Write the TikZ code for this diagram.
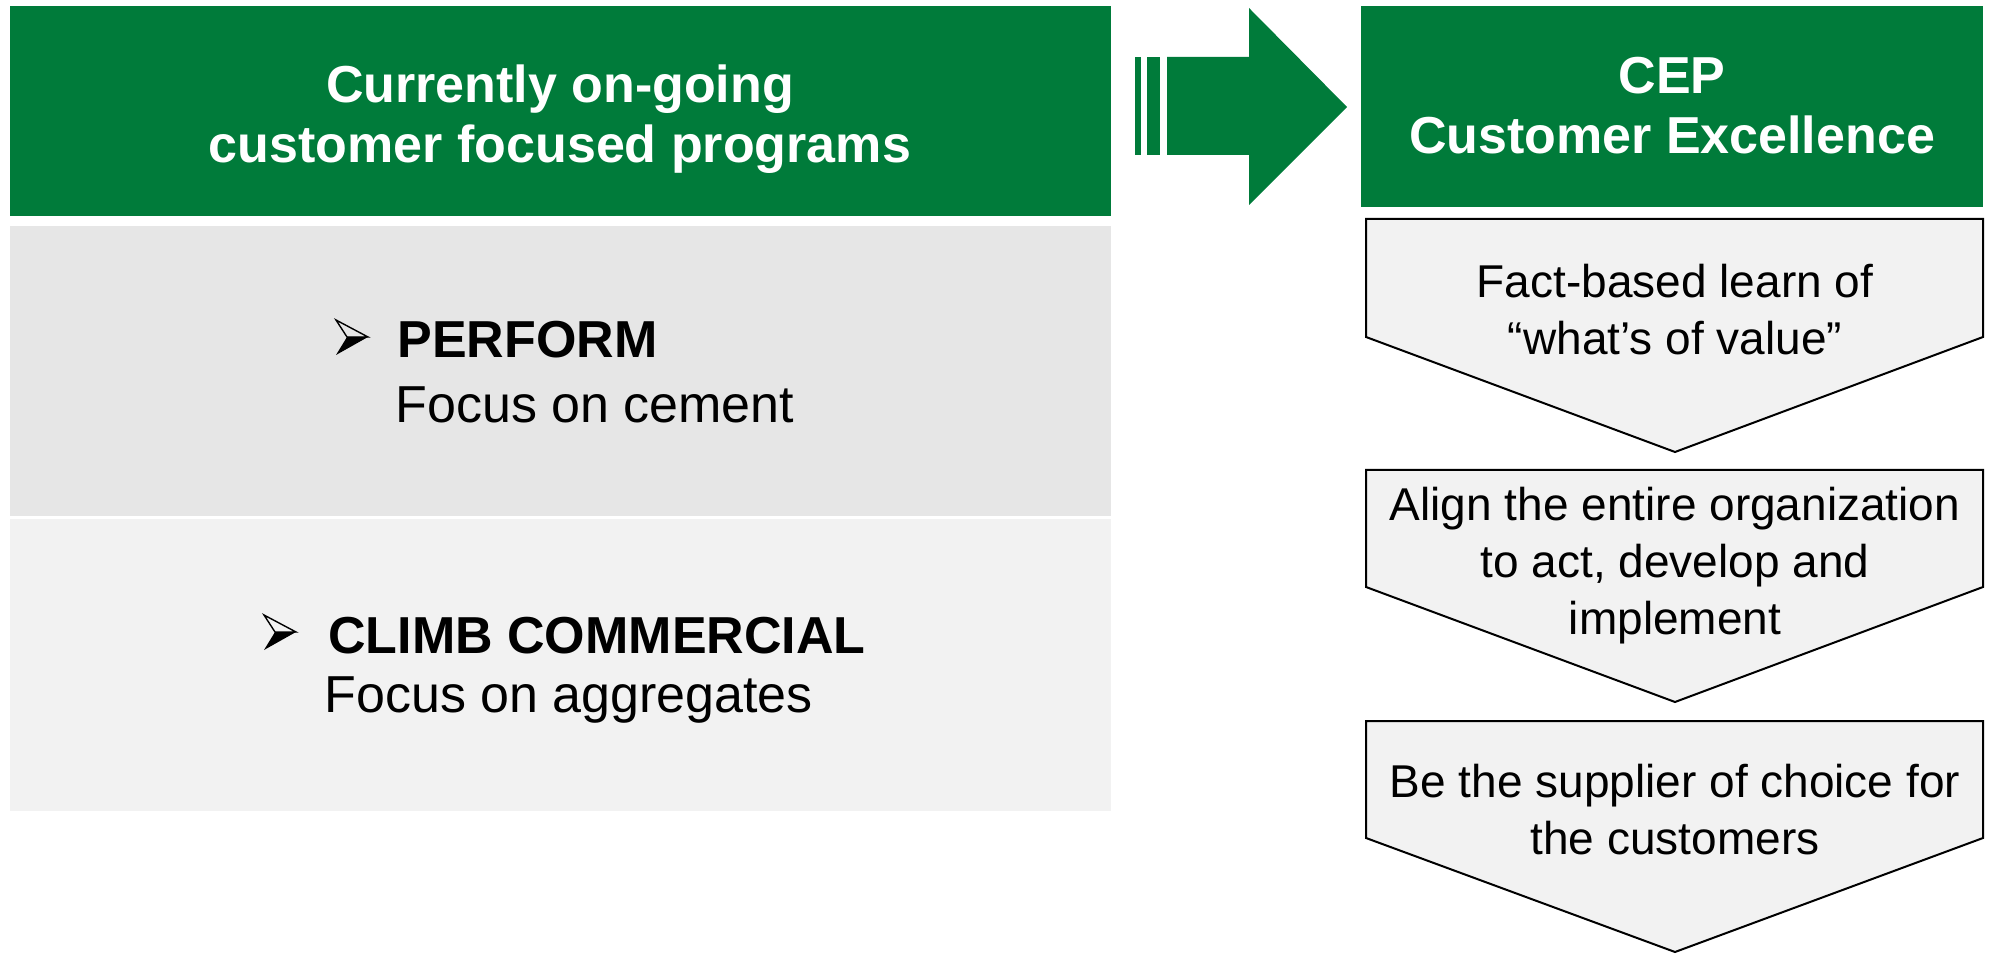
\documentclass[tikz,border=0pt]{standalone}
\usepackage{fontspec}
\setmainfont{Liberation Sans}
\usetikzlibrary{positioning}

\definecolor{cepgreen}{RGB}{0,123,58}
\definecolor{panelgray}{RGB}{230,230,230}
\definecolor{panellight}{RGB}{242,242,242}

\begin{document}
\begin{tikzpicture}[x=0.5pt,y=-0.5pt,
  header/.style={text=white,font=\fontsize{26}{30}\selectfont\bfseries,align=center,inner sep=0pt},
  title/.style={font=\fontsize{26}{30}\selectfont\bfseries,inner sep=0pt},
  sub/.style={font=\fontsize{26}{30}\selectfont,inner sep=0pt},
  pointer/.pic={
    \draw[line width=0.7pt,line join=miter] (-32,-17) -- (0,0) -- (-21,0) -- cycle;
    \fill (-21,0) -- (0,0) -- (-32,18) -- cycle;},
  stage/.style={fill=panellight,draw=black,line width=1pt,line join=miter},
  stagetext/.style={font=\fontsize{23}{28.5}\selectfont,align=center,inner sep=0pt}]
  \useasboundingbox (0,0) rectangle (1991,956);

  % left column: header and the two programs
  \fill[cepgreen] (10,6) rectangle (1111,216);
  \node[header] (ongoing) at (560,119) {Currently on-going\\customer focused programs};
  \fill[panelgray] (10,226) rectangle (1111,516);
  \fill[panellight] (10,519) rectangle (1111,811);

  \node[title,anchor=base west] (perform) at (397,358) {PERFORM};
  \node[sub,anchor=base west] (cement) at (395,423) {Focus on cement};
  \pic at ([shift={(-29,-21)}]perform.base west) {pointer};

  \node[title,anchor=base west] (climb) at (328,653) {CLIMB COMMERCIAL};
  \node[sub,anchor=base west] (aggr) at (324,712) {Focus on aggregates};
  \pic at ([shift={(-32,-21)}]climb.base west) {pointer};

  % block arrow towards CEP
  \fill[cepgreen] (1135,57) rectangle (1141,155);
  \fill[cepgreen] (1147,57) rectangle (1160,155);
  \fill[cepgreen] (1167,57) -- (1249,57) -- (1249,8) -- (1347,107)
    -- (1249,205) -- (1249,155) -- (1167,155) -- cycle;

  % right column: CEP and its three steps
  \fill[cepgreen] (1361,6) rectangle (1983,207);
  \node[header] (cep) at (1672,106) {CEP\\Customer Excellence};

  \draw[stage] (1366,219) -- (1983,219) -- (1983,337) -- (1675,452) -- (1366,337) -- cycle;
  \node[stagetext] (learn) at (1675,310) {Fact-based learn of\\“what’s of value”};

  \draw[stage] (1366,470) -- (1983,470) -- (1983,587) -- (1675,702) -- (1366,587) -- cycle;
  \node[stagetext] (align) at (1675,566) {Align the entire organization\\to act, develop and\\implement};

  \draw[stage] (1366,721) -- (1983,721) -- (1983,838) -- (1675,952) -- (1366,838) -- cycle;
  \node[stagetext] (supplier) at (1675,810) {Be the supplier of choice for\\the customers};
\end{tikzpicture}
\end{document}
